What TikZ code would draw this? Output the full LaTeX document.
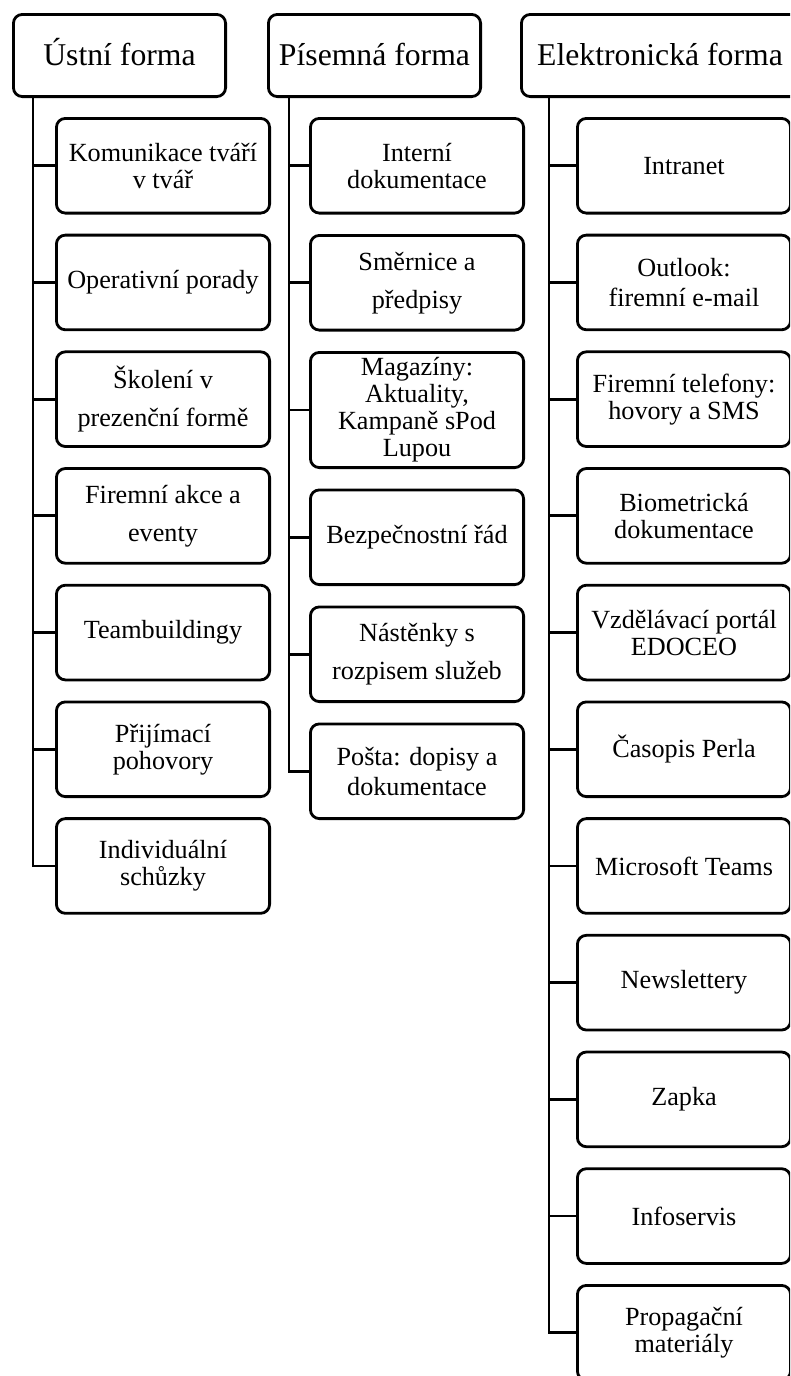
\documentclass[tikz,border=0pt]{standalone}
\usepackage{fontspec}
\setmainfont{Liberation Serif}
\usepackage{tikz}
\usetikzlibrary{positioning}
\tikzset{
  hdr/.style={draw, rounded corners=9pt, line width=2.8pt, outer sep=0pt, minimum width=212.2pt, minimum height=82.2pt, inner sep=2pt, text height=25pt, text depth=6pt, align=center, font=\fontsize{31.7pt}{34pt}\selectfont},
  itm/.style={draw, rounded corners=9pt, line width=2.8pt, outer sep=0pt, minimum width=213.2pt, minimum height=94.7pt, inner sep=2pt, align=center, font=\fontsize{26.2pt}{27pt}\selectfont},
  itmmid/.style={itm, font=\fontsize{26.2pt}{30pt}\selectfont},
  itmloose/.style={itm, font=\fontsize{26.2pt}{38pt}\selectfont},
  conn/.style={line width=2.8pt}
}
\begin{document}
\begin{tikzpicture}[x=1pt, y=-1pt]
  \useasboundingbox (0,0) rectangle (790,1376);
  \clip (0,0) rectangle (790,1376);
  % headers
  \node [hdr] (ustni) at (119.5,55.5) {Ústní forma};
  \node [hdr, right=42.8pt of ustni] (pisemna) {Písemná forma};
  \node [hdr, right=40.8pt of pisemna, minimum width=277.2pt] (elektro) {Elektronická forma};
  % trunks
  \coordinate (tu) at ([xshift=19.6pt]ustni.south west);
  \coordinate (tp) at ([xshift=20.6pt]pisemna.south west);
  \coordinate (te) at ([xshift=27.6pt]elektro.south west);
  % ustni forma
  \node [itm, below=21.8pt of ustni, xshift=43.5pt] (u1) {Komunikace tváří\\v tvář};
  \node [itm, below=22pt of u1] (u2) {Operativní porady};
  \node [itmloose, below=22pt of u2] (u3) {Školení v\\prezenční formě};
  \node [itmloose, below=22pt of u3] (u4) {Firemní akce a\\eventy};
  \node [itm, below=22pt of u4] (u5) {Teambuildingy};
  \node [itm, below=22pt of u5] (u6) {Přijímací\\pohovory};
  \node [itm, below=22pt of u6] (u7) {Individuální\\schůzky};
  % pisemna forma
  \node [itm, below=21.8pt of pisemna, xshift=42.5pt] (p1) {Interní\\dokumentace};
  \node [itmloose, below=22.3pt of p1] (p2) {Směrnice a\\předpisy};
  \node [itm, below=22.3pt of p2, minimum height=115.2pt] (p3) {Magazíny:\\Aktuality,\\Kampaně sPod\\Lupou};
  \node [itm, below=22.3pt of p3] (p4) {Bezpečnostní řád};
  \node [itmloose, below=22.3pt of p4] (p5) {Nástěnky s\\rozpisem služeb};
  \node [itmmid, below=22.3pt of p5] (p6) {Pošta: dopisy a\\dokumentace};
  % elektronicka forma
  \node [itm, below=21.8pt of elektro, xshift=24pt] (e1) {Intranet};
  \node [itmmid, below=22pt of e1] (e2) {Outlook:\\firemní e-mail};
  \node [itm, below=22pt of e2] (e3) {Firemní telefony:\\hovory a SMS};
  \node [itm, below=22pt of e3] (e4) {Biometrická\\dokumentace};
  \node [itm, below=22pt of e4] (e5) {Vzdělávací portál\\EDOCEO};
  \node [itm, below=22pt of e5] (e6) {Časopis Perla};
  \node [itm, below=22pt of e6] (e7) {Microsoft Teams};
  \node [itm, below=22pt of e7] (e8) {Newslettery};
  \node [itm, below=22pt of e8] (e9) {Zapka};
  \node [itm, below=22pt of e9] (e10) {Infoservis};
  \node [itm, below=22pt of e10] (e11) {Propagační\\materiály};
  % connectors
  \draw [conn] (tu) |- (u7.west)
    (u1.west) -- (u1.west -| tu) (u2.west) -- (u2.west -| tu)
    (u3.west) -- (u3.west -| tu) (u4.west) -- (u4.west -| tu)
    (u5.west) -- (u5.west -| tu) (u6.west) -- (u6.west -| tu);
  \draw [conn] (tp) |- (p6.west)
    (p1.west) -- (p1.west -| tp) (p2.west) -- (p2.west -| tp)
    (p3.west) -- (p3.west -| tp) (p4.west) -- (p4.west -| tp)
    (p5.west) -- (p5.west -| tp);
  \draw [conn] (te) |- (e11.west)
    (e1.west) -- (e1.west -| te) (e2.west) -- (e2.west -| te)
    (e3.west) -- (e3.west -| te) (e4.west) -- (e4.west -| te)
    (e5.west) -- (e5.west -| te) (e6.west) -- (e6.west -| te)
    (e7.west) -- (e7.west -| te) (e8.west) -- (e8.west -| te)
    (e9.west) -- (e9.west -| te) (e10.west) -- (e10.west -| te);
\end{tikzpicture}
\end{document}
